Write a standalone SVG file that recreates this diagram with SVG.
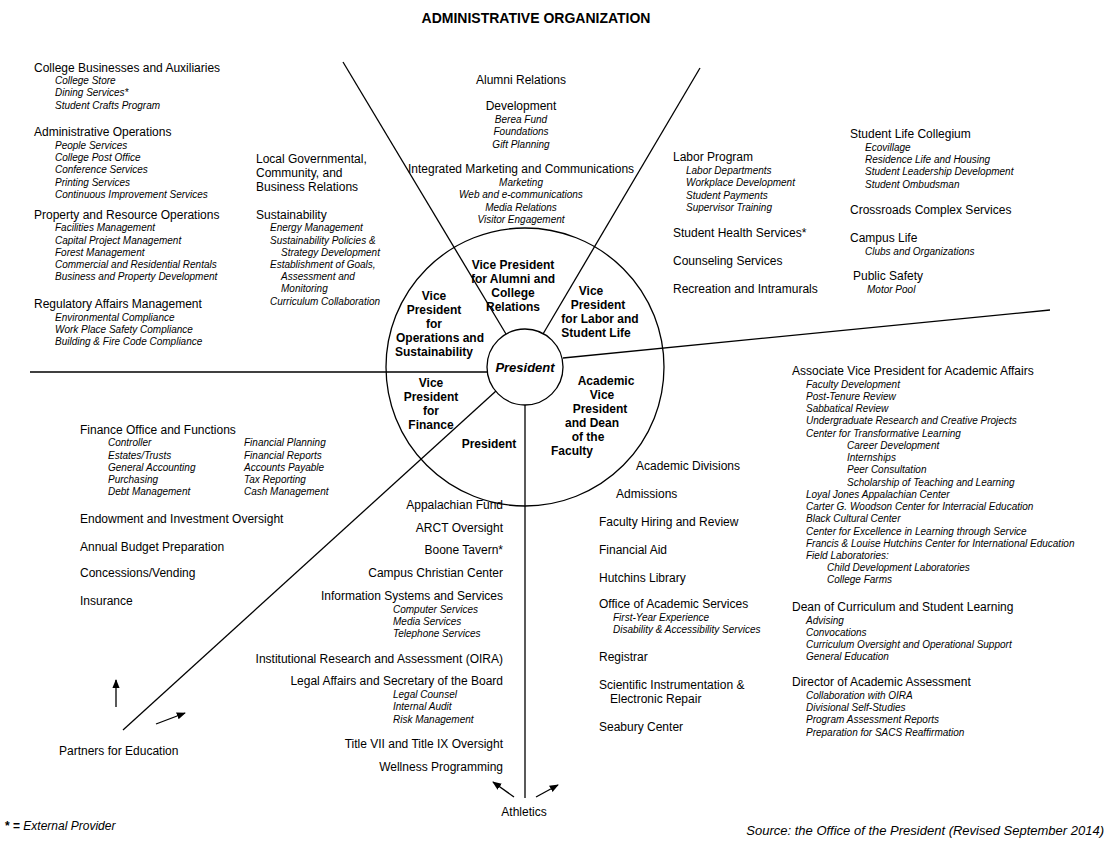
<svg xmlns="http://www.w3.org/2000/svg" width="1114" height="847" viewBox="0 0 1114 847">
<style>
text{font-family:"Liberation Sans",Arial,sans-serif;font-size:12px;fill:#000}
.i{font-style:italic;font-size:10px}
.b{font-weight:bold}
.c{text-anchor:middle}
.r{text-anchor:end}
.l{stroke:#000;stroke-width:1.3;fill:none}
</style>
<defs><marker id="a" viewBox="0 0 10 10" refX="9" refY="5" markerWidth="7" markerHeight="7" orient="auto"><path d="M0,1 L10,5 L0,9 z" fill="#000"/></marker></defs>
<rect width="1114" height="847" fill="#fff"/>
<text x="536" y="23" class="b c" font-size="14" style="font-size:14px">ADMINISTRATIVE ORGANIZATION</text>
<g id="connectors">
<circle class="l" cx="525" cy="367" r="139"/>
<line class="l" x1="343" y1="62" x2="506" y2="334"/>
<line class="l" x1="700" y1="68" x2="543" y2="334"/>
<line class="l" x1="1050" y1="310" x2="563" y2="358"/>
<line class="l" x1="30" y1="372" x2="487" y2="372"/>
<line class="l" x1="123" y1="730" x2="496" y2="391"/>
<line class="l" x1="525" y1="405" x2="525" y2="798"/>
<line class="l" x1="116" y1="707" x2="116" y2="680" marker-end="url(#a)"/>
<line class="l" x1="156" y1="724" x2="185" y2="713" marker-end="url(#a)"/>
<line class="l" x1="514" y1="797" x2="493" y2="782" marker-end="url(#a)"/>
<line class="l" x1="536" y1="797" x2="558" y2="785" marker-end="url(#a)"/>
</g>
<g id="president"><circle cx="525" cy="367" r="38" fill="#fff" stroke="#000" stroke-width="1.3"/><text x="525" y="372" class="b c" style="font-style:italic;font-size:13px">President</text></g>
<g id="vp-alumni" class="b"><text class="b c" x="513" y="269">Vice President</text><text class="b c" x="513" y="283">for Alumni and</text><text class="b c" x="513" y="297">College</text><text class="b c" x="513" y="311">Relations</text></g>
<g id="vp-ops"><text class="b c" x="434" y="300">Vice</text><text class="b c" x="434" y="314">President</text><text class="b c" x="434" y="328">for</text><text class="b c" x="440" y="342">Operations and</text><text class="b c" x="434" y="356">Sustainability</text></g>
<g id="vp-labor"><text class="b c" x="591" y="295">Vice</text><text class="b c" x="598" y="309">President</text><text class="b c" x="600" y="323">for Labor and</text><text class="b c" x="596" y="337">Student Life</text></g>
<g id="vp-finance"><text class="b c" x="431" y="387">Vice</text><text class="b c" x="431" y="401">President</text><text class="b c" x="431" y="415">for</text><text class="b c" x="431" y="429">Finance</text></g>
<g id="pres2"><text class="b c" x="489" y="448">President</text></g>
<g id="vp-academic"><text class="b c" x="606" y="385">Academic</text><text class="b c" x="602" y="399">Vice</text><text class="b c" x="600" y="413">President</text><text class="b c" x="592" y="427">and Dean</text><text class="b c" x="588" y="441">of the</text><text class="b c" x="572" y="455">Faculty</text></g>

<g id="ops-list">
<text x="34" y="72">College Businesses and Auxiliaries</text>
<text class="i" x="55" y="84">College Store</text><text class="i" x="55" y="96">Dining Services*</text><text class="i" x="55" y="109">Student Crafts Program</text>
<text x="34" y="136">Administrative Operations</text>
<text class="i" x="55" y="149">People Services</text><text class="i" x="55" y="161">College Post Office</text><text class="i" x="55" y="173">Conference Services</text><text class="i" x="55" y="186">Printing Services</text><text class="i" x="55" y="198">Continuous Improvement Services</text>
<text x="34" y="219">Property and Resource Operations</text>
<text class="i" x="55" y="231">Facilities Management</text><text class="i" x="55" y="244">Capital Project Management</text><text class="i" x="55" y="256">Forest Management</text><text class="i" x="55" y="268">Commercial and Residential Rentals</text><text class="i" x="55" y="280">Business and Property Development</text>
<text x="34" y="308">Regulatory Affairs Management</text>
<text class="i" x="55" y="321">Environmental Compliance</text><text class="i" x="55" y="333">Work Place Safety Compliance</text><text class="i" x="55" y="345">Building &amp; Fire Code Compliance</text>
<text x="256" y="163">Local Governmental,</text><text x="256" y="177">Community, and</text><text x="256" y="191">Business Relations</text>
<text x="256" y="219">Sustainability</text>
<text class="i" x="270" y="231">Energy Management</text><text class="i" x="270" y="244">Sustainability Policies &amp;</text><text class="i" x="281" y="256">Strategy Development</text><text class="i" x="270" y="268">Establishment of Goals,</text><text class="i" x="281" y="280">Assessment and</text><text class="i" x="281" y="292">Monitoring</text><text class="i" x="270" y="305">Curriculum Collaboration</text>
</g>
<g id="alumni-list">
<text class="c" x="521" y="84">Alumni Relations</text>
<text class="c" x="521" y="110">Development</text>
<text class="i c" x="521" y="123">Berea Fund</text><text class="i c" x="521" y="135">Foundations</text><text class="i c" x="521" y="148">Gift Planning</text>
<text class="c" x="521" y="173">Integrated Marketing and Communications</text>
<text class="i c" x="521" y="186">Marketing</text><text class="i c" x="521" y="198">Web and e-communications</text><text class="i c" x="521" y="211">Media Relations</text><text class="i c" x="521" y="223">Visitor Engagement</text>
</g>
<g id="labor-list">
<text x="673" y="161">Labor Program</text>
<text class="i" x="686" y="174">Labor Departments</text><text class="i" x="686" y="186">Workplace Development</text><text class="i" x="686" y="199">Student Payments</text><text class="i" x="686" y="211">Supervisor Training</text>
<text x="673" y="237">Student Health Services*</text>
<text x="673" y="265">Counseling Services</text>
<text x="673" y="293">Recreation and Intramurals</text>
<text x="850" y="138">Student Life Collegium</text>
<text class="i" x="865" y="151">Ecovillage</text><text class="i" x="865" y="163">Residence Life and Housing</text><text class="i" x="865" y="175">Student Leadership Development</text><text class="i" x="865" y="188">Student Ombudsman</text>
<text x="850" y="214">Crossroads Complex Services</text>
<text x="850" y="242">Campus Life</text><text class="i" x="865" y="255">Clubs and Organizations</text>
<text x="853" y="280">Public Safety</text><text class="i" x="867" y="293">Motor Pool</text>
</g>
<g id="finance-list">
<text x="80" y="434">Finance Office and Functions</text>
<text class="i" x="108" y="446">Controller</text><text class="i" x="108" y="459">Estates/Trusts</text><text class="i" x="108" y="471">General Accounting</text><text class="i" x="108" y="483">Purchasing</text><text class="i" x="108" y="495">Debt Management</text>
<text class="i" x="244" y="446">Financial Planning</text><text class="i" x="244" y="459">Financial Reports</text><text class="i" x="244" y="471">Accounts Payable</text><text class="i" x="244" y="483">Tax Reporting</text><text class="i" x="244" y="495">Cash Management</text>
<text x="80" y="523">Endowment and Investment Oversight</text>
<text x="80" y="551">Annual Budget Preparation</text>
<text x="80" y="577">Concessions/Vending</text>
<text x="80" y="605">Insurance</text>
</g>
<g id="partners"><text x="59" y="755">Partners for Education</text></g>
<g id="pres-list">
<text class="r" x="503" y="509">Appalachian Fund</text>
<text class="r" x="503" y="532">ARCT Oversight</text>
<text class="r" x="503" y="554">Boone Tavern*</text>
<text class="r" x="503" y="577">Campus Christian Center</text>
<text class="r" x="503" y="600">Information Systems and Services</text>
<text class="i" x="393" y="613">Computer Services</text><text class="i" x="393" y="625">Media Services</text><text class="i" x="393" y="637">Telephone Services</text>
<text class="r" x="503" y="663">Institutional Research and Assessment (OIRA)</text>
<text class="r" x="503" y="685">Legal Affairs and Secretary of the Board</text>
<text class="i" x="393" y="698">Legal Counsel</text><text class="i" x="393" y="710">Internal Audit</text><text class="i" x="393" y="723">Risk Management</text>
<text class="r" x="503" y="748">Title VII and Title IX Oversight</text>
<text class="r" x="503" y="771">Wellness Programming</text>
</g>
<g id="athletics"><text class="c" x="524" y="816">Athletics</text></g>
<g id="academic-list">
<text x="636" y="470">Academic Divisions</text>
<text x="616" y="498">Admissions</text>
<text x="599" y="526">Faculty Hiring and Review</text>
<text x="599" y="554">Financial Aid</text>
<text x="599" y="582">Hutchins Library</text>
<text x="599" y="608">Office of Academic Services</text>
<text class="i" x="613" y="621">First-Year Experience</text><text class="i" x="613" y="633">Disability &amp; Accessibility Services</text>
<text x="599" y="661">Registrar</text>
<text x="599" y="689">Scientific Instrumentation &amp;</text><text x="610" y="703">Electronic Repair</text>
<text x="599" y="731">Seabury Center</text>
<text x="792" y="375">Associate Vice President for Academic Affairs</text>
<text class="i" x="806" y="388">Faculty Development</text><text class="i" x="806" y="400">Post-Tenure Review</text><text class="i" x="806" y="412">Sabbatical Review</text><text class="i" x="806" y="424">Undergraduate Research and Creative Projects</text><text class="i" x="806" y="437">Center for Transformative Learning</text>
<text class="i" x="847" y="449">Career Development</text><text class="i" x="847" y="461">Internships</text><text class="i" x="847" y="473">Peer Consultation</text><text class="i" x="847" y="486">Scholarship of Teaching and Learning</text>
<text class="i" x="806" y="498">Loyal Jones Appalachian Center</text><text class="i" x="806" y="510">Carter G. Woodson Center for Interracial Education</text><text class="i" x="806" y="522">Black Cultural Center</text><text class="i" x="806" y="535">Center for Excellence in Learning through Service</text><text class="i" x="806" y="547">Francis &amp; Louise Hutchins Center for International Education</text><text class="i" x="806" y="559">Field Laboratories:</text>
<text class="i" x="827" y="571">Child Development Laboratories</text><text class="i" x="827" y="583">College Farms</text>
<text x="792" y="611">Dean of Curriculum and Student Learning</text>
<text class="i" x="806" y="624">Advising</text><text class="i" x="806" y="636">Convocations</text><text class="i" x="806" y="648">Curriculum Oversight and Operational Support</text><text class="i" x="806" y="660">General Education</text>
<text x="792" y="686">Director of Academic Assessment</text>
<text class="i" x="806" y="699">Collaboration with OIRA</text><text class="i" x="806" y="711">Divisional Self-Studies</text><text class="i" x="806" y="723">Program Assessment Reports</text><text class="i" x="806" y="736">Preparation for SACS Reaffirmation</text>
</g>
<text x="5" y="830"><tspan font-weight="bold">* =</tspan><tspan font-style="italic"> External Provider</tspan></text>
<text class="r" x="1104" y="835" style="font-style:italic;font-size:13px">Source: the Office of the President (Revised September 2014)</text>
</svg>
